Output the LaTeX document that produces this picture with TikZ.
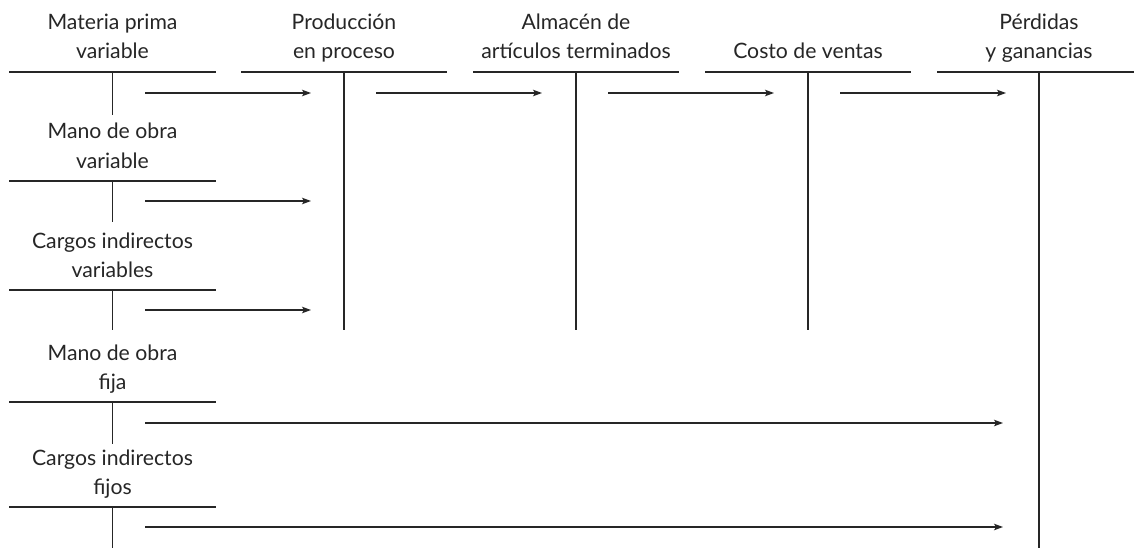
\documentclass[tikz,border=0pt]{standalone}
\usepackage{fontspec}
\setmainfont{Lato}
\usetikzlibrary{arrows.meta}
\begin{document}
\begin{tikzpicture}[x=1pt,y=-1pt,
  acct/.style={line width=1.1pt,black!85},
  flow/.style={line width=1.1pt,black!85,-{Stealth[length=9pt,width=6.5pt,inset=2pt]}},
  lbl/.style={anchor=base,inner sep=0pt,font=\fontsize{21.2}{25}\selectfont,text=black!85}]
\useasboundingbox (0,0) rectangle (1134,548);
% top labels
\node[lbl] (t1a) at (112.5,30) {Materia prima};
\node[lbl] (t1b) at (112.5,59) {variable};
\node[lbl] (t2a) at (344,30) {Producción};
\node[lbl] (t2b) at (344,59) {en proceso};
\node[lbl] (t3a) at (576,30) {Almacén de};
\node[lbl] (t3b) at (576,59) {artículos terminados};
\node[lbl] (t4b) at (808,59) {Costo de ventas};
\node[lbl] (t5a) at (1039,30) {Pérdidas};
\node[lbl] (t5b) at (1039,59) {y ganancias};
% left labels
\node[lbl] (l2a) at (112.5,139) {Mano de obra};
\node[lbl] (l2b) at (112.5,168) {variable};
\node[lbl] (l3a) at (112.5,248) {Cargos indirectos};
\node[lbl] (l3b) at (112.5,277) {variables};
\node[lbl] (l4a) at (112.5,360) {Mano de obra};
\node[lbl] (l4b) at (112.5,389) {fija};
\node[lbl] (l5a) at (112.5,465) {Cargos indirectos};
\node[lbl] (l5b) at (112.5,494) {fijos};
% T accounts (top row)
\draw[acct] (9,72) -- (216,72) (112.5,72) -- (112.5,115);
\draw[acct] (241,72) -- (447,72) (344,72) -- (344,330);
\draw[acct] (473,72) -- (679,72) (576,72) -- (576,330);
\draw[acct] (705,72) -- (911,72) (808,72) -- (808,330);
\draw[acct] (937,72) -- (1134,72) (1039,72) -- (1039,548);
% T accounts (left column)
\draw[acct] (9,181) -- (216,181) (112.5,181) -- (112.5,222);
\draw[acct] (9,290) -- (216,290) (112.5,290) -- (112.5,330);
\draw[acct] (9,402) -- (216,402) (112.5,402) -- (112.5,444);
\draw[acct] (9,507) -- (216,507) (112.5,507) -- (112.5,548);
% arrow end points
\coordinate (a1s) at (145,93);  \coordinate (a1e) at (311,93);
\coordinate (a2s) at (376,93);  \coordinate (a2e) at (542,93);
\coordinate (a3s) at (608,93);  \coordinate (a3e) at (774,93);
\coordinate (a4s) at (840,93);  \coordinate (a4e) at (1006,93);
\coordinate (b1s) at (145,201); \coordinate (b1e) at (311,201);
\coordinate (b2s) at (145,310); \coordinate (b2e) at (311,310);
\coordinate (b3s) at (145,423); \coordinate (b3e) at (1003,423);
\coordinate (b4s) at (145,527); \coordinate (b4e) at (1003,527);
\draw[flow] (a1s) -- (a1e);
\draw[flow] (a2s) -- (a2e);
\draw[flow] (a3s) -- (a3e);
\draw[flow] (a4s) -- (a4e);
\draw[flow] (b1s) -- (b1e);
\draw[flow] (b2s) -- (b2e);
\draw[flow] (b3s) -- (b3e);
\draw[flow] (b4s) -- (b4e);
\end{tikzpicture}
\end{document}
